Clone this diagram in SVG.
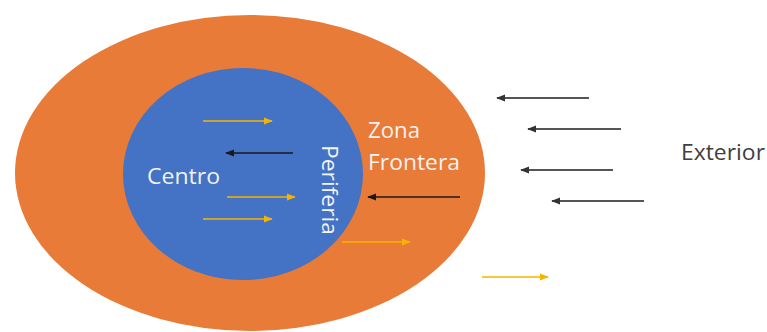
<svg xmlns="http://www.w3.org/2000/svg" width="767" height="332" viewBox="0 0 767 332">
<style>
.lbl{font-family:"Open Sans","Liberation Sans",sans-serif;font-size:21px;fill:#F2F2F2}
.ext{font-family:"Open Sans","Liberation Sans",sans-serif;font-size:21px;fill:#404040}
.ya{stroke:#F4B400;stroke-width:1.5;fill:none;marker-end:url(#my)}
.ba{stroke:#1a1a1a;stroke-width:1.5;fill:none;marker-end:url(#mb)}
.ga{stroke:#555;stroke-width:1.8;fill:none;marker-end:url(#mg)}
</style>
<defs>
<marker id="my" viewBox="0 0 10 10" refX="9" refY="5" markerWidth="6" markerHeight="6" orient="auto" markerUnits="strokeWidth"><path d="M0,1 L10,5 L0,9 z" fill="#F4B400"/></marker>
<marker id="mb" viewBox="0 0 10 10" refX="9" refY="5" markerWidth="6" markerHeight="6" orient="auto" markerUnits="strokeWidth"><path d="M0,1 L10,5 L0,9 z" fill="#1a1a1a"/></marker>
<marker id="mg" viewBox="0 0 10 10" refX="9" refY="5" markerWidth="5" markerHeight="5" orient="auto" markerUnits="strokeWidth"><path d="M0,1 L10,5 L0,9 z" fill="#333"/></marker>
</defs>
<rect width="767" height="332" fill="#fff"/>
<g id="zona-frontera">
<ellipse cx="250" cy="173" rx="235" ry="158" fill="#E97B39"/>
<text class="lbl" x="368" y="138" textLength="52" lengthAdjust="spacingAndGlyphs">Zona</text>
<text class="lbl" x="368" y="170" textLength="92" lengthAdjust="spacingAndGlyphs">Frontera</text>
</g>
<g id="centro">
<ellipse cx="243" cy="174" rx="120" ry="106" fill="#4472C4"/>
<text class="lbl" x="147" y="184" textLength="73" lengthAdjust="spacingAndGlyphs">Centro</text>
</g>
<g id="periferia">
<text class="lbl" transform="translate(322,145) rotate(90)" textLength="90" lengthAdjust="spacingAndGlyphs">Periferia</text>
</g>
<g id="exterior">
<text class="ext" x="681" y="160" textLength="84" lengthAdjust="spacingAndGlyphs">Exterior</text>
</g>
<g id="connectors">
<line class="ya" x1="203" y1="121" x2="272" y2="121"/>
<line class="ba" x1="293" y1="153" x2="226" y2="153"/>
<line class="ya" x1="227" y1="197" x2="295" y2="197"/>
<line class="ya" x1="203" y1="219" x2="272" y2="219"/>
<line class="ba" x1="460" y1="197" x2="368" y2="197"/>
<line class="ya" x1="342" y1="242" x2="410" y2="242"/>
<line class="ga" x1="589" y1="98" x2="497" y2="98"/>
<line class="ga" x1="621" y1="129" x2="528" y2="129"/>
<line class="ga" x1="613" y1="170" x2="521" y2="170"/>
<line class="ga" x1="644" y1="201" x2="552" y2="201"/>
<line class="ya" x1="482" y1="277" x2="548" y2="277"/>
</g>
</svg>
